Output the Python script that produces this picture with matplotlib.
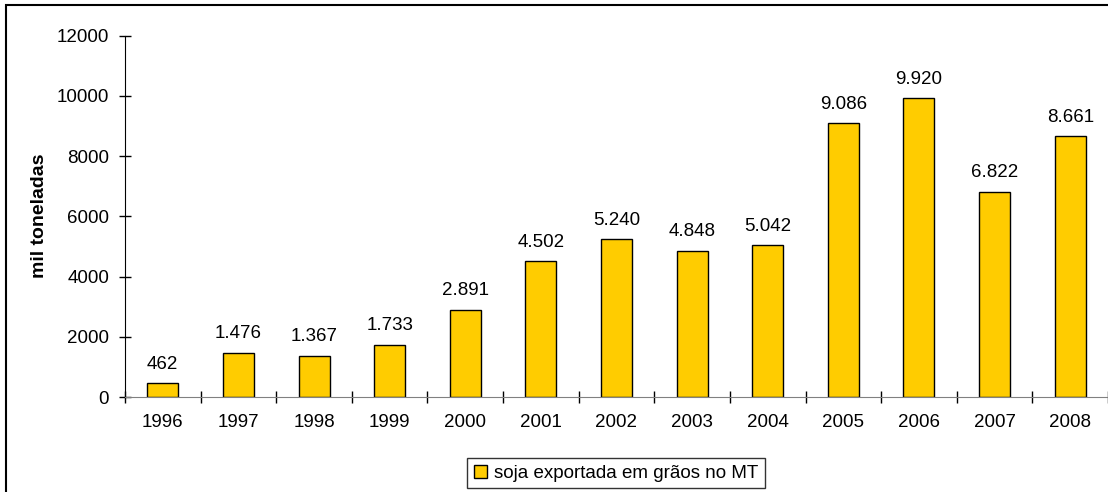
import matplotlib
matplotlib.use("Agg")
import matplotlib.pyplot as plt
from matplotlib.patches import Rectangle

plt.rcParams["font.family"] = ["Liberation Sans", "DejaVu Sans"]

anos = ["1996", "1997", "1998", "1999", "2000", "2001", "2002",
        "2003", "2004", "2005", "2006", "2007", "2008"]
exportacao = [462, 1476, 1367, 1733, 2891, 4502, 5240,
              4848, 5042, 9086, 9920, 6822, 8661]
serie = "soja exportada em grãos no MT"
y_ticks = [0, 2000, 4000, 6000, 8000, 10000, 12000]

FS = 13.5
W, H = 1108, 492
fig = plt.figure(figsize=(W / 100, H / 100), dpi=100)
ax = fig.add_axes([125 / W, 1 - 397 / H, (W - 125) / W, (397 - 35.7) / H])

x = list(range(len(anos)))
bars = ax.bar(x, exportacao, width=0.41, color="#FFCC00",
              edgecolor="black", linewidth=1.0, label=serie)


def fmt(v):
    # thousands separator as a dot
    return f"{v:,}".replace(",", ".")


for xi, v in zip(x, exportacao):
    ax.annotate(fmt(v), (xi, v), xytext=(0, 10.5), textcoords="offset points",
                ha="center", va="baseline", fontsize=FS)

ax.set_xlim(-0.5, len(anos) - 0.5)
ax.set_ylim(0, 12000)
ax.set_yticks(y_ticks)
ax.set_yticklabels([str(t) for t in y_ticks])

# tick marks sit between categories, labels at the centres
ax.set_xticks([i - 0.5 for i in range(len(anos) + 1)])
ax.set_xticklabels([])
ax.set_xticks(x, minor=True)
ax.set_xticklabels(anos, minor=True)
ax.tick_params(axis="x", which="major", direction="inout", length=8, width=1)
ax.tick_params(axis="x", which="minor", length=0, pad=12, labelsize=FS)
ax.tick_params(axis="y", direction="inout", length=9, width=1, pad=7,
               labelsize=FS)

for s in ("top", "right"):
    ax.spines[s].set_visible(False)
ax.spines["bottom"].set_color("#808080")
ax.spines["left"].set_color("black")

fig.text(40 / W, 1 - 216 / H, "mil toneladas", rotation=90, ha="center",
         va="center", fontsize=14, fontweight="bold")

leg = fig.legend(handles=[bars], labels=[serie], loc="upper center",
                 bbox_to_anchor=(616 / W, 1 - 458 / H), fontsize=FS,
                 frameon=True, fancybox=False, borderaxespad=0,
                 handlelength=0.7, handleheight=0.7, handletextpad=0.4,
                 borderpad=0.35)
leg.get_frame().set_edgecolor("black")
leg.get_frame().set_linewidth(1.0)

# outer chart frame (right and bottom run off the canvas)
fig.patches.append(Rectangle((6 / W, -0.1), 1.2, 1.1 - 5 / H,
                             transform=fig.transFigure, fill=False,
                             edgecolor="black", linewidth=1.5))

plt.savefig("out.png", dpi=100)
plt.close()
